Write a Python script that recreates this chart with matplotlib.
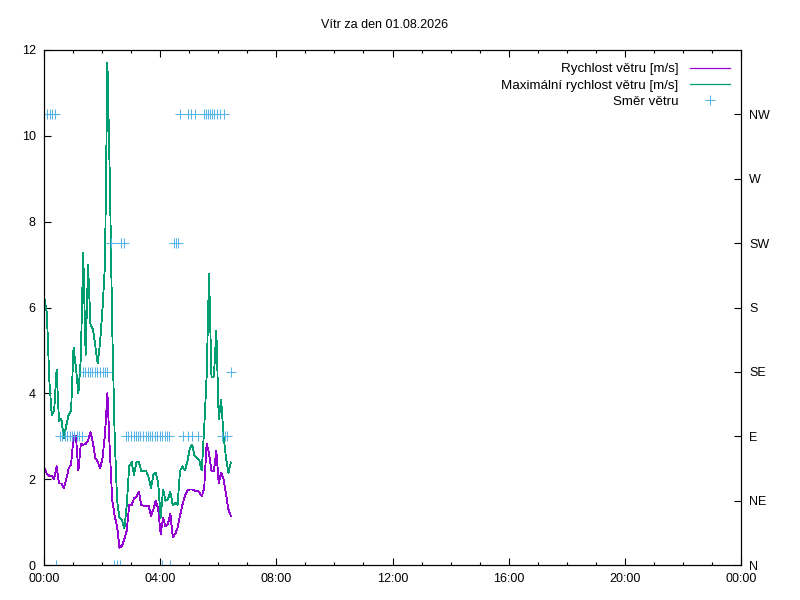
import matplotlib
matplotlib.use("Agg")
from matplotlib import pyplot as plt
from matplotlib.ticker import FixedLocator, MultipleLocator
import numpy as np

plt.rcParams['font.family'] = ['Liberation Sans', 'DejaVu Sans']
plt.rcParams['font.size'] = 9

title = "Vítr za den 01.08.2026"

# wind samples, every 5 minutes from 00:01
wind_minutes = np.arange(1, 390, 5)
wind_avg = [2.25, 2.12, 2.08, 2.08, 2.0, 2.3, 1.9, 1.9, 1.8, 2.0,
            2.25, 2.35, 3.0, 3.0, 2.2, 2.82, 2.8, 2.82, 2.9, 3.1,
            2.85, 2.5, 2.4, 2.25, 2.5, 3.05, 4.0, 2.66, 1.5, 1.15,
            0.9, 0.4, 0.45, 0.6, 0.8, 1.4, 1.4, 1.55, 1.6, 1.7,
            1.4, 1.38, 1.38, 1.38, 1.15, 1.3, 1.5, 1.3, 0.72, 1.1,
            0.9, 0.95, 1.2, 0.65, 0.72, 0.87, 1.15, 1.4, 1.6, 1.73,
            1.76, 1.76, 1.73, 1.73, 1.7, 1.6, 1.8, 2.82, 2.6, 2.19,
            2.19, 2.66, 1.9, 2.15, 2.0, 1.65, 1.3, 1.14]
wind_max = [6.2, 5.85, 4.3, 3.5, 3.6, 4.55, 3.35, 3.4, 2.95, 3.25,
            3.5, 3.6, 5.07, 4.6, 4.0, 4.8, 7.28, 4.9, 7.0, 5.6,
            5.5, 5.1, 4.7, 5.2, 6.0, 7.0, 11.7, 9.0, 5.5, 3.0,
            1.5, 1.1, 1.05, 0.85, 1.4, 2.3, 2.4, 2.1, 2.4, 2.4,
            2.19, 2.19, 2.19, 2.05, 1.8, 2.1, 2.15, 1.9, 1.1, 1.76,
            1.5, 1.53, 1.7, 1.4, 1.45, 1.4, 2.19, 2.3, 2.2, 2.4,
            2.7, 2.8, 2.54, 2.5, 2.43, 2.2, 3.2, 4.4, 6.79, 4.37,
            4.4, 5.46, 3.4, 3.85, 3.0, 2.5, 2.15, 2.39]

# wind direction: 0=N 1=NE 2=E 3=SE 4=S 5=SW 6=W 7=NW
directions = ["N", "NE", "E", "SE", "S", "SW", "W", "NW"]
dir_minutes = [1, 6, 12, 17, 22, 25, 33, 38, 43, 48,
               53, 58, 63, 68, 73, 78, 80, 85, 90, 95,
               100, 106, 110, 116, 121, 126, 131, 139, 145, 151,
               156, 160, 166, 170, 174, 179, 185, 190, 194, 199,
               204, 210, 215, 219, 224, 229, 234, 239, 243, 244,
               249, 254, 259, 261, 268, 272, 276, 281, 288, 297,
               297, 304, 306, 312, 318, 330, 334, 338, 342, 347,
               352, 357, 363, 368, 371, 373, 378, 387]
dir_values = [7, 7, 7, 7, 7, 0, 2, 2, 2, 2,
              2, 2, 2, 2, 2, 2, 3, 3, 3, 3,
              3, 3, 3, 3, 3, 3, 3, 5, 0, 0,
              0, 5, 5, 2, 2, 2, 2, 2, 2, 2,
              2, 2, 2, 2, 2, 2, 2, 2, 0, 2,
              2, 2, 2, 0, 5, 5, 5, 7, 2, 2,
              7, 7, 2, 7, 2, 7, 7, 7, 7, 7,
              7, 7, 7, 2, 7, 2, 2, 3]

hour_labels = ["00:00", "04:00", "08:00", "12:00", "16:00", "20:00", "00:00"]

fig = plt.figure(figsize=(8, 6), dpi=100)
ax = fig.add_axes([44 / 800, 1 - 565 / 600, 697 / 800, 515 / 600])
ax2 = ax.twinx()

l1, = ax.plot(wind_minutes / 60, wind_avg, color="#9400d3", lw=0.6,
              antialiased=False, label="Rychlost větru [m/s]")
l2, = ax.plot(wind_minutes / 60, wind_max, color="#009e73", lw=0.6,
              antialiased=False, label="Maximální rychlost větru [m/s]")
l3, = ax2.plot(np.array(dir_minutes) / 60, dir_values, ls="none", marker="+",
               ms=6.5, mew=0.75, color="#56b4e9", label="Směr větru")

ax.set_xlim(0, 24)
ax.set_ylim(0, 12)
ax2.set_ylim(0, 8)

ax.xaxis.set_major_locator(FixedLocator(range(0, 25, 4)))
ax.set_xticklabels(hour_labels)
ax.xaxis.set_minor_locator(MultipleLocator(1))
ax.yaxis.set_major_locator(MultipleLocator(2))
ax2.yaxis.set_major_locator(FixedLocator(range(8)))
ax2.set_yticklabels(directions)

ax.tick_params(which="both", direction="in", top=True, right=False)
ax.tick_params(which="major", length=5, width=0.8, pad=6)
ax.tick_params(which="minor", length=2.5, width=0.8)
ax2.tick_params(direction="in", length=5, width=0.8, pad=6)
for a in (ax, ax2):
    for s in a.spines.values():
        s.set_linewidth(0.8)

fig.text(385 / 800, 1 - 25 / 600, title, ha="center", va="center")

leg = ax2.legend(handles=[l1, l2, l3], loc="upper right", frameon=False,
                 markerfirst=False, bbox_to_anchor=(730 / 800, 1 - 63 / 600),
                 bbox_transform=fig.transFigure, borderpad=0, borderaxespad=0,
                 handlelength=3.0, handletextpad=0.85, labelspacing=0.3,
                 fontsize=9.6)
for h in leg.get_lines():
    h.set_antialiased(True)
    h.set_linewidth(0.9)

fig.savefig("out.png", dpi=100)
